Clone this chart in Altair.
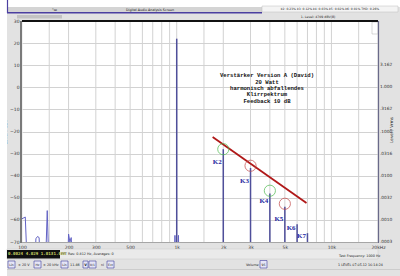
import altair as alt
import pandas as pd

# ---------------- data ----------------
noise_freq = [100, 105, 108, 121, 123, 126, 129, 131, 142, 145.6, 149, 197, 200, 204, 208, 212, 965, 974, 984, 1016, 1026, 1036]
noise_db = [-59.5, -58.7, -80, -80, -68.5, -67.5, -68, -80, -80, -55.8, -80, -80, -66.4, -70, -68, -80, -80, -67, -80, -80, -67, -80]

peak_freq = [1000, 2000, 3000, 4000, 5000, 6000, 7000]
peak_db = [22, -28, -36.5, -48, -54, -62, -66]

k_names = ["K2", "K3", "K4", "K5", "K6", "K7"]
k_freq = [2000, 3000, 4000, 5000, 6000, 7000]
k_label_db = [-33.8, -42.3, -51.6, -59.5, -63.7, -67.1]

circle_freq = [2000, 3000, 4000, 5000]
circle_db = [-28, -35.5, -46.8, -52.7]
circle_kind = ["gruen", "rot", "gruen", "rot"]

trend_freq = [1707, 6900]
trend_db = [-22.5, -52.4]

level_ticks = [30, 20, 10, 0, -10, -20, -30, -40, -50, -60, -70]
vrms_ticks = [10, 0, -10, -20, -30, -40, -50, -60, -70]
vrms_labels = ["3.162", "1.000", ".3162", ".1000", ".0316", ".0100", ".0032", ".0010", ".0003"]

freq_ticks = [100, 200, 300, 500, 1000, 2000, 3000, 5000, 10000, 20000]
freq_tick_labels = ["100", "200", "300", "500", "1k", "2k", "3k", "5k", "10k", "20kHz"]
grid_freqs = [150, 200, 300, 400, 500, 600, 700, 800, 900, 1000, 1500, 2000, 3000, 4000,
              5000, 6000, 7000, 8000, 9000, 10000, 15000, 20000]

note_lines = ["Verstärker Version A (David)", "20 Watt", "harmonisch abfallendes",
              "Klirrpektrum", "Feedback 10 dB"]

# ---------------- layout ----------------
PL, PT, W, H = 22, 21, 356, 221
one = pd.DataFrame({"k": [0]})
UI = "DejaVu Sans"

label_expr = " : ".join(f"datum.value == {v} ? '{t}'" for v, t in zip(freq_ticks, freq_tick_labels)) + " : ''"
xs = alt.Scale(type="log", domain=[100, 20000], nice=False)
ys = alt.Scale(domain=[-70, 30], nice=False)
x_axis = alt.Axis(values=freq_ticks, labelExpr=label_expr, grid=False, domain=False, ticks=False,
                  labelFontSize=4.5, labelPadding=2, title=None, labelColor="#333333",
                  labelFont=UI, labelFlush=False)
y_axis = alt.Axis(values=level_ticks, grid=True, gridColor="#d2d2d2", gridWidth=1, domain=False,
                  ticks=False, labelFontSize=4.5, labelPadding=3, labelColor="#333333", labelFont=UI,
                  title="Level / dBV", titleFontSize=4.5, titleFont=UI, titleFontWeight="normal",
                  titleColor="#333333", titlePadding=2)


def X(f):
    return alt.X(f, scale=xs, axis=x_axis)


def Y(f):
    return alt.Y(f, scale=ys, axis=y_axis)


def R(x1, y1, x2, y2, fill, stroke="", sw=0):
    kw = dict(fill=fill)
    if stroke:
        kw.update(stroke=stroke, strokeWidth=sw)
    return alt.Chart(one).mark_rect(**kw).encode(
        x=alt.value(x1 - PL), x2=alt.value(x2 - PL), y=alt.value(y1 - PT), y2=alt.value(y2 - PT))


def Ln(x1, y1, x2, y2, color, sw):
    return alt.Chart(one).mark_rule(color=color, strokeWidth=sw).encode(
        x=alt.value(x1 - PL), x2=alt.value(x2 - PL), y=alt.value(y1 - PT), y2=alt.value(y2 - PT))


def T(x, y, txt, size=3.8, color="#222222", align="left", font=UI, weight="normal", angle=0):
    return alt.Chart(one).mark_text(fontSize=size, color=color, align=align, baseline="middle",
                                    font=font, fontWeight=weight, angle=angle).encode(
        x=alt.value(x - PL), y=alt.value(y - PT), text=alt.value(txt))


deco = [
    R(0, 0, 400, 7, "#ffffff"),
    R(0, 0, 7, 276, "#ffffff"),
    R(7, 7, 262, 12, "#d4d4d4"),
    T(52, 9.5, "°ш", 3.5),
    T(150, 9.5, "Digital Audio Analysis Screen", 3.3, align="center"),
    Ln(7, 12.7, 262, 12.7, "#4b3fa0", 1.5),
    Ln(7.5, 0, 7.5, 13, "#4b3fa0", 1.2),
    R(262, 6, 398, 12, "#f4f4f4", "#bdbdbd", 0.5),
    T(330, 9, "k2: 0.23% k3: 0.12% k4: 0.03% k5: 0.02% k6: 0.01% THD: 0.26%", 3.0, align="center"),
    R(17, 15, 62, 18.5, "#c3c3c3"),
    T(318, 16.5, "1. Level:   4709 dBV(B)", 3.2, align="center"),
    # right side strip / small box
    R(372, 22, 378, 34, "#ffffff", "#b0b0b0", 0.5),
    # status bar
    R(7, 249, 378, 259, "#eaeaea", "#c8c8c8", 0.5),
    R(7, 250, 60, 258.5, "#101010"),
    T(8, 254.3, "0.0024  4.029  1.0131.000", 4.2, color="#c8d060", font="DejaVu Sans Mono", weight="bold"),
    T(61, 254.3, "FFT Res: 0.812 Hz, Averages: 0", 3.4),
    T(339, 256, "Test Frequency: 1000 Hz", 3.4),
    # bottom toolbar
    R(8, 261, 15, 268, "#e6e6f6", "#3c3ca0", 0.6), T(11.5, 264.5, "Lin", 3.2, align="center"),
    T(18, 264.5, "±  20 V", 3.4),
    R(34, 261, 41, 268, "#e6e6f6", "#3c3ca0", 0.6), T(37.5, 264.5, "Hz", 3.2, align="center"),
    T(43, 264.5, "± 20 kHz", 3.4),
    R(61, 261, 68, 268, "#e6e6f6", "#3c3ca0", 0.6), T(64.5, 264.5, "Lin", 3.2, align="center"),
    T(70, 264.5, "11.46", 3.4),
    R(83, 261, 88, 268, "#e6e6f6", "#3c3ca0", 0.6), T(85.5, 264.5, "V", 3.4, align="center", weight="bold"),
    R(89, 261, 96, 268, "#e6e6f6", "#3c3ca0", 0.6), T(92.5, 264.5, "0/1", 3.0, align="center"),
    T(101, 264.5, "nl", 3.2),
    R(107, 261, 114, 268, "#e6e6f6", "#3c3ca0", 0.6), T(110.5, 264.5, "Ext", 3.0, align="center"),
    T(246, 264.5, "Volume", 3.4),
    R(260, 260.5, 267, 268, "#e6e6f6", "#3c3ca0", 0.6), T(263.5, 264.5, "95", 3.2, align="center"),
    T(338, 264.5, "1  LEVEL  07.05.12 16:14:24", 3.3),
    Ln(7, 269.5, 400, 269.5, "#bdbdbd", 0.6),
    # right axis title
    T(392, 130, "Level / Vrms", 4.2, align="center", angle=270),
]

grid = alt.Chart(pd.DataFrame({"f": grid_freqs})).mark_rule(
    color="#d2d2d2", strokeWidth=1).encode(x=X("f:Q"))

noise = alt.Chart(pd.DataFrame({"f": noise_freq, "db": noise_db, "i": list(range(len(noise_freq)))})).mark_line(
    color="#6262c4", strokeWidth=1, clip=True).encode(x=X("f:Q"), y=Y("db:Q"), order="i:Q")

peaks_df = pd.DataFrame({"f": peak_freq, "db": peak_db})
peaks = alt.Chart(peaks_df).mark_rule(color="#4f4f9a", strokeWidth=1.5).encode(
    x=X("f:Q"), y=Y("db:Q"), y2=alt.value(H))

trend = alt.Chart(pd.DataFrame({"f": trend_freq, "db": trend_db})).mark_line(
    color="#b01818", strokeWidth=1.8).encode(x=X("f:Q"), y=Y("db:Q"))

circles = alt.Chart(pd.DataFrame({"f": circle_freq, "db": circle_db, "c": circle_kind})).mark_point(
    shape="circle", size=125, filled=False, strokeWidth=1).encode(
    x=X("f:Q"), y=Y("db:Q"),
    color=alt.Color("c:N", scale=alt.Scale(domain=["gruen", "rot"], range=["#4cba4c", "#c24848"]), legend=None))

klabels = alt.Chart(pd.DataFrame({"f": k_freq, "db": k_label_db, "t": k_names})).mark_text(
    font="Liberation Serif", fontWeight="bold", fontSize=7, color="#1e1ea0", dx=-6,
    align="center", baseline="middle").encode(x=X("f:Q"), y=Y("db:Q"), text="t:N")

note = alt.Chart(one).mark_text(font="Liberation Mono", fontWeight="bold", fontSize=5.6, color="#111111",
                                align="center", baseline="top", lineHeight=6.35).encode(
    x=alt.value(267 - PL), y=alt.value(73.4 - PT), text=alt.value(note_lines))

vrms = alt.Chart(pd.DataFrame({"lvl": vrms_ticks, "t": vrms_labels})).mark_text(
    fontSize=4.3, font=UI, color="#333333", align="left", baseline="middle").encode(
    x=alt.value(W + 2), y=Y("lvl:Q"), text="t:N")

borders = [
    Ln(PL, PT, 378, PT, "#111111", 2),
    Ln(21, PT, 21, 243, "#7a7a7a", 2),
    Ln(378.5, PT, 378.5, 243, "#6a6a8a", 1.2),
    Ln(PL, 242.5, 378, 242.5, "#9a9a9a", 0.8),
]

chart = alt.layer(*deco, grid, noise, peaks, trend, circles, klabels, note, vrms, *borders).properties(
    width=W, height=H,
    padding={"left": PL, "top": PT, "right": 400 - PL - W, "bottom": 276 - PT - H},
    autosize=alt.AutoSizeParams(type="none"),
    background="#e2e2e2",
).configure_view(fill="#ffffff", stroke="transparent")

chart.save("out.html", embed_options={"renderer": "svg", "actions": False})
